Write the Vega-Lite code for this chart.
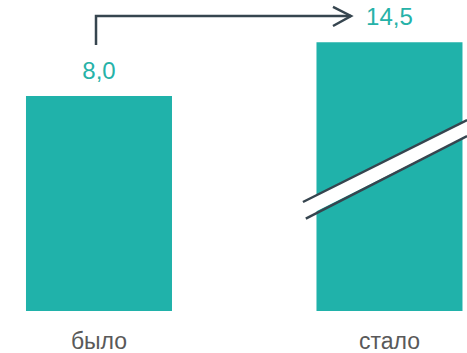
{
  "$schema": "https://vega.github.io/schema/vega-lite/v6.json",
  "width": 467,
  "height": 311,
  "autosize": {"type": "none"},
  "padding": {"left": 0, "right": 0, "top": 0, "bottom": 42},
  "background": "white",
  "config": {"view": {"stroke": null}},
  "layer": [
    {
      "data": {"values": [
        {"cat": "было", "value": 8.0, "shown": 8.0, "label": "8,0"},
        {"cat": "стало", "value": 14.5, "shown": 10.0, "label": "14,5"}
      ]},
      "encoding": {
        "x": {"field": "cat", "type": "nominal", "sort": null,
          "scale": {"paddingInner": 0.4974, "paddingOuter": 0.0525, "align": 0.852},
          "axis": {"title": null, "domain": false, "ticks": false, "labelAngle": 0,
            "labelFontSize": 23, "labelColor": "#595959", "labelFont": "Liberation Sans",
            "labelPadding": 19}},
        "y": {"field": "shown", "type": "quantitative",
          "scale": {"domain": [0, 11.572], "nice": false, "zero": true}, "axis": null}
      },
      "layer": [
        {"mark": {"type": "bar", "color": "#20B2AA"}},
        {"mark": {"type": "text", "color": "#26B2A8", "fontSize": 24, "font": "Liberation Sans",
          "baseline": "alphabetic", "dy": -17},
         "encoding": {"text": {"field": "label"}}}
      ]
    },
    {
      "data": {"values": [
        {"u": 0.702, "top": 4.056, "bottom": 3.46},
        {"u": 1.267, "top": 7.107, "bottom": 6.512}
      ]},
      "mark": {"type": "area", "color": "white", "opacity": 1},
      "encoding": {
        "x": {"field": "u", "type": "quantitative",
          "scale": {"domain": [-0.3408, 1.2668], "nice": false, "zero": false}, "axis": null},
        "y": {"field": "top", "type": "quantitative", "scale": {"domain": [0, 11.572], "nice": false}, "axis": null},
        "y2": {"field": "bottom"}
      }
    },
    {
      "data": {"values": [
        {"part": "breakTop", "u": 0.702, "v": 4.056, "o": 1},
        {"part": "breakTop", "u": 1.267, "v": 7.107, "o": 2},
        {"part": "breakBottom", "u": 0.712, "v": 3.44, "o": 1},
        {"part": "breakBottom", "u": 1.267, "v": 6.512, "o": 2},
        {"part": "arrow", "u": -0.0103, "v": 9.898, "o": 1},
        {"part": "arrow", "u": -0.0103, "v": 10.977, "o": 2},
        {"part": "arrow", "u": 0.8675, "v": 10.977, "o": 3},
        {"part": "head", "u": 0.8055, "v": 11.312, "o": 1},
        {"part": "head", "u": 0.8675, "v": 10.977, "o": 2},
        {"part": "head", "u": 0.8055, "v": 10.605, "o": 3}
      ]},
      "mark": {"type": "line", "color": "#36454F", "strokeWidth": 2.5, "strokeJoin": "miter", "strokeCap": "butt"},
      "encoding": {
        "x": {"field": "u", "type": "quantitative",
          "scale": {"domain": [-0.3408, 1.2668], "nice": false, "zero": false}, "axis": null},
        "y": {"field": "v", "type": "quantitative", "scale": {"domain": [0, 11.572], "nice": false}, "axis": null},
        "detail": {"field": "part"},
        "order": {"field": "o"}
      }
    }
  ],
  "resolve": {"scale": {"x": "independent"}}
}
